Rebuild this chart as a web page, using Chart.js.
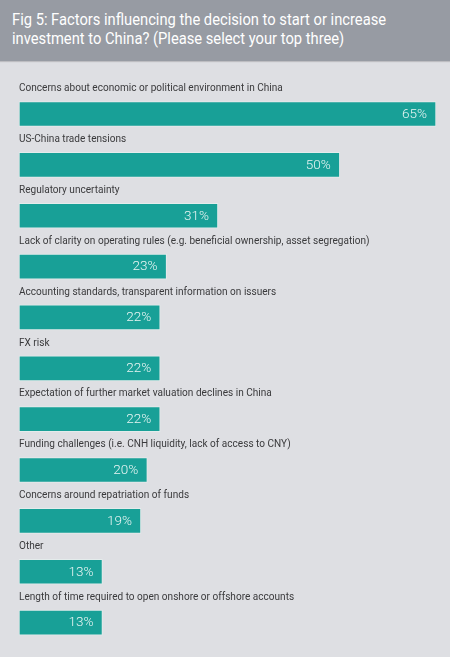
<!DOCTYPE html>
<html>
<head>
<meta charset="utf-8">
<script src="https://cdn.jsdelivr.net/npm/chart.js@4.4.1/dist/chart.umd.min.js"></script>
<style>
  html, body { margin: 0; padding: 0; background: #dedfe3; width: 450px; height: 657px; overflow: hidden; }
  #hdr { position: absolute; left: 0; top: 0; width: 450px; height: 61px; background: #979ba3;
         box-shadow: 0 1px 1px rgba(0,0,0,0.15); }
  #hdr div { position: absolute; left: 12px; top: 10px; color: #ffffff; font-family: Roboto, sans-serif;
             font-size: 16px; line-height: 19px; white-space: nowrap; transform-origin: 0 0; transform: scaleX(0.92); }
  #wrap { position: absolute; left: 0; top: 61px; width: 450px; height: 596px; }
</style>
</head>
<body>
<div id="hdr"><div>Fig 5: Factors influencing the decision to start or increase<br>investment to China? (Please select your top three)</div></div>
<div id="wrap"><canvas id="c"></canvas></div>
<script>
const categories = [
  "Concerns about economic or political environment in China",
  "US-China trade tensions",
  "Regulatory uncertainty",
  "Lack of clarity on operating rules (e.g. beneficial ownership, asset segregation)",
  "Accounting standards, transparent information on issuers",
  "FX risk",
  "Expectation of further market valuation declines in China",
  "Funding challenges (i.e. CNH liquidity, lack of access to CNY)",
  "Concerns around repatriation of funds",
  "Other",
  "Length of time required to open onshore or offshore accounts"
];
const values = [65, 50, 31, 23, 22, 22, 22, 20, 19, 13, 13];
const valueLabels = ["65%", "50%", "31%", "23%", "22%", "22%", "22%", "20%", "19%", "13%", "13%"];

const labelPlugin = {
  id: 'labelPlugin',
  afterDatasetsDraw(chart) {
    const ctx = chart.ctx;
    const meta = chart.getDatasetMeta(0);
    ctx.save();
    meta.data.forEach((bar, i) => {
      // category label above bar
      ctx.save();
      ctx.font = '400 11px Roboto, sans-serif';
      ctx.fillStyle = '#3a3a3c';
      ctx.textBaseline = 'middle';
      ctx.textAlign = 'left';
      const lx = chart.chartArea.left;
      ctx.translate(lx, bar.y - 25.5);
      ctx.scale(0.915, 1);
      ctx.fillText(categories[i], 0, 0);
      ctx.restore();
      // value inside bar
      ctx.save();
      ctx.font = '300 13.5px Roboto, sans-serif';
      ctx.fillStyle = '#e8f5f3';
      ctx.textBaseline = 'middle';
      ctx.textAlign = 'right';
      ctx.fillText(valueLabels[i], bar.x - 9, bar.y + 0.5);
      ctx.restore();
    });
    ctx.restore();
  }
};

new Chart(document.getElementById('c'), {
  type: 'bar',
  data: {
    labels: categories,
    datasets: [{
      data: values,
      backgroundColor: '#18a097',
      borderColor: '#e4ecec',
      borderWidth: 1,
      borderSkipped: false,
      barThickness: 25
    }]
  },
  options: {
    indexAxis: 'y',
    responsive: true,
    maintainAspectRatio: false,
    animation: false,
    layout: { padding: { top: 27.6, bottom: 9, left: 19, right: 14 } },
    plugins: { legend: { display: false }, tooltip: { enabled: false } },
    scales: {
      x: { display: false, min: 0, max: 65 },
      y: { display: false, offset: true }
    }
  },
  plugins: [labelPlugin]
});
</script>
</body>
</html>
